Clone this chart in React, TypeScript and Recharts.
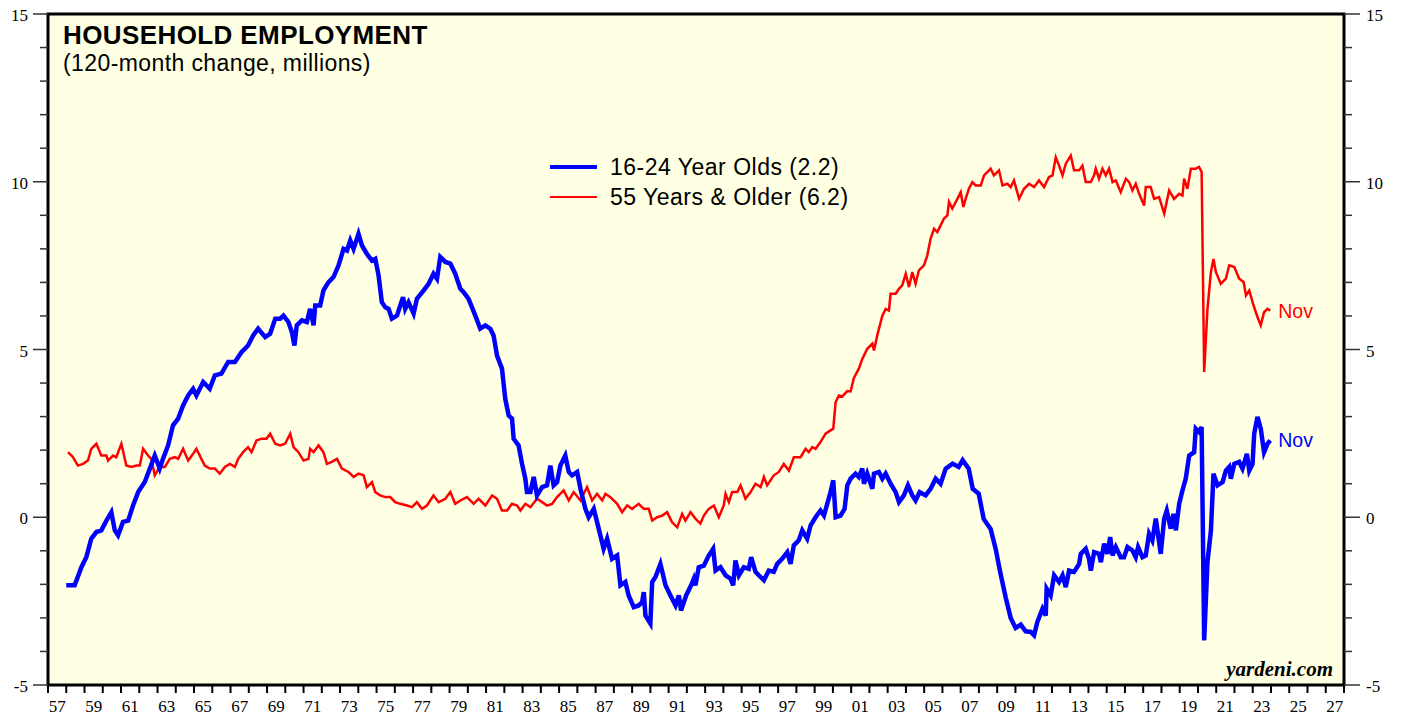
import { CartesianGrid, Legend, Line, LineChart, ReferenceArea, ReferenceDot, XAxis, YAxis } from "recharts";

// 120-month change in household employment, millions: [year, value]
const youth: Array<[number, number]> = [
  [1958.0, -2.03], [1958.46, -2.03], [1958.83, -1.49], [1959.1, -1.19], [1959.37, -0.64], [1959.65, -0.44],
  [1959.92, -0.39], [1960.2, -0.1], [1960.47, 0.15], [1960.66, -0.39], [1960.84, -0.54], [1961.11, -0.14],
  [1961.39, -0.1], [1961.66, 0.35], [1961.94, 0.75], [1962.3, 1.05], [1962.58, 1.45], [1962.85, 1.84],
  [1963.12, 1.45], [1963.3, 1.74], [1963.58, 2.14], [1963.85, 2.74], [1964.13, 2.94], [1964.4, 3.33],
  [1964.68, 3.63], [1964.95, 3.83], [1965.13, 3.63], [1965.5, 4.03], [1965.86, 3.83], [1966.14, 4.23],
  [1966.5, 4.28], [1966.87, 4.63], [1967.24, 4.63], [1967.6, 4.92], [1967.96, 5.12], [1968.24, 5.42],
  [1968.51, 5.62], [1968.9, 5.37], [1969.17, 5.47], [1969.45, 5.92], [1969.72, 5.92], [1969.9, 6.01],
  [1970.17, 5.82], [1970.36, 5.52], [1970.5, 5.12], [1970.63, 5.72], [1970.91, 5.87], [1971.18, 5.82],
  [1971.36, 6.21], [1971.55, 5.72], [1971.64, 6.31], [1971.91, 6.31], [1972.09, 6.76], [1972.37, 7.01],
  [1972.64, 7.16], [1972.92, 7.51], [1973.19, 8.0], [1973.38, 7.95], [1973.56, 8.25], [1973.74, 8.0],
  [1974.01, 8.45], [1974.2, 8.1], [1974.47, 7.85], [1974.75, 7.65], [1974.93, 7.7], [1975.11, 7.21],
  [1975.29, 6.41], [1975.48, 6.26], [1975.66, 6.21], [1975.84, 5.92], [1976.12, 6.01], [1976.3, 6.31],
  [1976.45, 6.56], [1976.57, 6.21], [1976.75, 6.41], [1977.03, 6.07], [1977.21, 6.51], [1977.58, 6.76],
  [1977.85, 6.96], [1978.12, 7.26], [1978.31, 7.11], [1978.49, 7.76], [1978.77, 7.61], [1979.04, 7.56],
  [1979.31, 7.26], [1979.59, 6.81], [1979.77, 6.71], [1980.04, 6.51], [1980.41, 6.01], [1980.68, 5.62],
  [1980.96, 5.72], [1981.23, 5.62], [1981.41, 5.42], [1981.6, 4.82], [1981.87, 4.43], [1982.05, 3.53],
  [1982.24, 3.03], [1982.42, 2.94], [1982.51, 2.34], [1982.78, 2.14], [1982.97, 1.59], [1983.15, 1.15],
  [1983.24, 0.75], [1983.43, 0.75], [1983.61, 1.2], [1983.79, 0.65], [1984.07, 0.9], [1984.34, 0.95],
  [1984.52, 1.54], [1984.7, 0.95], [1984.89, 1.05], [1985.07, 1.54], [1985.34, 1.84], [1985.53, 1.35],
  [1985.71, 1.25], [1985.99, 1.35], [1986.17, 0.85], [1986.44, 0.25], [1986.62, 0.0], [1986.9, 0.25],
  [1987.17, -0.34], [1987.44, -0.94], [1987.63, -0.64], [1987.9, -1.24], [1988.18, -1.14], [1988.36, -2.03],
  [1988.63, -1.93], [1988.81, -2.33], [1989.09, -2.68], [1989.36, -2.63], [1989.55, -2.53], [1989.64, -2.23],
  [1989.73, -2.93], [1990.0, -3.17], [1990.1, -1.93], [1990.28, -1.78], [1990.55, -1.39], [1990.83, -2.03],
  [1991.1, -2.33], [1991.38, -2.63], [1991.56, -2.33], [1991.68, -2.78], [1991.96, -2.33], [1992.23, -2.03],
  [1992.38, -1.83], [1992.47, -2.03], [1992.65, -1.49], [1992.93, -1.44], [1993.2, -1.14], [1993.44, -0.94],
  [1993.57, -1.59], [1993.84, -1.49], [1994.12, -1.73], [1994.39, -1.83], [1994.54, -2.03], [1994.66, -1.29],
  [1994.85, -1.73], [1995.12, -1.49], [1995.39, -1.54], [1995.52, -1.19], [1995.76, -1.63], [1995.94, -1.73],
  [1996.22, -1.88], [1996.49, -1.59], [1996.76, -1.63], [1996.95, -1.39], [1997.22, -1.24], [1997.5, -1.04],
  [1997.68, -1.39], [1997.86, -0.84], [1998.13, -0.69], [1998.32, -0.39], [1998.59, -0.64], [1998.78, -0.24],
  [1999.05, 0.0], [1999.32, 0.2], [1999.51, 0.05], [1999.69, 0.4], [1999.87, 0.75], [2000.02, 1.1],
  [2000.15, 0.0], [2000.42, 0.05], [2000.64, 0.25], [2000.79, 0.95], [2000.97, 1.15], [2001.24, 1.3],
  [2001.42, 1.2], [2001.61, 1.45], [2001.7, 1.0], [2001.88, 1.3], [2002.16, 0.85], [2002.25, 1.3],
  [2002.52, 1.35], [2002.71, 1.15], [2002.89, 1.3], [2003.16, 1.0], [2003.44, 0.75], [2003.62, 0.45],
  [2003.89, 0.65], [2004.11, 0.95], [2004.35, 0.65], [2004.53, 0.5], [2004.75, 0.75], [2005.08, 0.65],
  [2005.35, 0.85], [2005.63, 1.15], [2005.9, 1.0], [2006.18, 1.45], [2006.56, 1.6], [2006.89, 1.5],
  [2007.11, 1.7], [2007.44, 1.45], [2007.66, 0.85], [2007.99, 0.7], [2008.26, -0.05], [2008.64, -0.35],
  [2008.92, -0.95], [2009.19, -1.7], [2009.47, -2.4], [2009.74, -3.0], [2010.01, -3.3], [2010.29, -3.2],
  [2010.56, -3.4], [2010.84, -3.42], [2011.02, -3.52], [2011.2, -3.12], [2011.48, -2.73], [2011.66, -2.93],
  [2011.71, -2.13], [2011.93, -2.33], [2012.12, -1.73], [2012.39, -1.93], [2012.58, -1.73], [2012.76, -2.08],
  [2012.94, -1.59], [2013.21, -1.63], [2013.49, -1.39], [2013.58, -1.09], [2013.85, -0.94], [2014.03, -1.24],
  [2014.13, -1.59], [2014.31, -1.04], [2014.58, -1.09], [2014.68, -1.34], [2014.86, -0.79], [2015.04, -1.09],
  [2015.19, -0.59], [2015.32, -1.14], [2015.5, -0.89], [2015.77, -1.19], [2015.95, -1.19], [2016.14, -0.89],
  [2016.41, -0.99], [2016.59, -1.19], [2016.72, -0.89], [2016.96, -1.19], [2017.14, -1.14], [2017.32, -0.49],
  [2017.5, -0.69], [2017.69, -0.04], [2017.96, -1.09], [2018.15, -0.04], [2018.29, 0.2], [2018.51, -0.34],
  [2018.66, 0.1], [2018.79, -0.39], [2018.97, 0.4], [2019.15, 0.8], [2019.33, 1.15], [2019.52, 1.84],
  [2019.79, 1.94], [2019.88, 2.64], [2020.06, 2.54], [2020.2, 2.69], [2020.34, -3.67], [2020.52, -1.34],
  [2020.71, -0.39], [2020.85, 1.3], [2021.07, 0.95], [2021.35, 1.05], [2021.53, 1.39], [2021.71, 1.5],
  [2021.8, 1.15], [2021.99, 1.59], [2022.26, 1.65], [2022.44, 1.45], [2022.68, 1.89], [2022.81, 1.39],
  [2022.99, 1.59], [2023.08, 2.49], [2023.26, 2.99], [2023.44, 2.64], [2023.62, 1.94], [2023.81, 2.19],
  [2023.96, 2.29],
];

const older: Array<[number, number]> = [
  [1958.1, 1.94], [1958.37, 1.79], [1958.64, 1.54], [1958.92, 1.59], [1959.19, 1.69], [1959.37, 2.04],
  [1959.65, 2.19], [1959.92, 1.84], [1960.2, 1.84], [1960.29, 1.69], [1960.56, 1.84], [1960.74, 1.79],
  [1961.02, 2.19], [1961.29, 1.54], [1961.57, 1.5], [1961.84, 1.54], [1962.03, 1.54], [1962.21, 2.04],
  [1962.48, 1.84], [1962.66, 1.74], [1962.85, 1.25], [1963.12, 1.5], [1963.4, 1.5], [1963.67, 1.74],
  [1963.95, 1.79], [1964.13, 1.74], [1964.4, 2.04], [1964.68, 1.69], [1964.95, 1.89], [1965.13, 2.04],
  [1965.4, 1.74], [1965.59, 1.54], [1965.86, 1.45], [1966.14, 1.45], [1966.41, 1.3], [1966.69, 1.5],
  [1966.96, 1.59], [1967.24, 1.5], [1967.42, 1.74], [1967.69, 1.94], [1967.96, 2.09], [1968.15, 1.94],
  [1968.42, 2.29], [1968.69, 2.34], [1968.97, 2.34], [1969.17, 2.49], [1969.45, 2.19], [1969.72, 2.14],
  [1969.99, 2.19], [1970.27, 2.49], [1970.45, 2.09], [1970.72, 1.94], [1971.0, 1.69], [1971.27, 1.74],
  [1971.36, 2.04], [1971.55, 1.94], [1971.82, 2.14], [1972.09, 1.94], [1972.28, 1.59], [1972.55, 1.65],
  [1972.83, 1.74], [1973.1, 1.45], [1973.46, 1.35], [1973.74, 1.2], [1974.01, 1.3], [1974.29, 1.25],
  [1974.47, 0.9], [1974.75, 1.05], [1974.93, 0.75], [1975.2, 0.65], [1975.48, 0.6], [1975.75, 0.6],
  [1976.02, 0.45], [1976.3, 0.4], [1976.67, 0.35], [1976.94, 0.3], [1977.21, 0.45], [1977.49, 0.25],
  [1977.76, 0.35], [1978.12, 0.65], [1978.4, 0.45], [1978.77, 0.55], [1979.04, 0.75], [1979.31, 0.4],
  [1979.59, 0.5], [1979.95, 0.6], [1980.32, 0.4], [1980.59, 0.55], [1980.96, 0.35], [1981.33, 0.65],
  [1981.6, 0.55], [1981.87, 0.2], [1982.15, 0.2], [1982.42, 0.4], [1982.7, 0.35], [1982.88, 0.2],
  [1983.15, 0.4], [1983.43, 0.3], [1983.79, 0.55], [1984.07, 0.45], [1984.34, 0.35], [1984.62, 0.4],
  [1984.89, 0.6], [1985.25, 0.8], [1985.53, 0.5], [1985.8, 0.75], [1986.17, 0.5], [1986.53, 0.9],
  [1986.81, 0.5], [1987.08, 0.7], [1987.36, 0.5], [1987.54, 0.7], [1987.81, 0.6], [1988.18, 0.4],
  [1988.45, 0.15], [1988.73, 0.35], [1989.0, 0.25], [1989.36, 0.4], [1989.64, 0.25], [1989.91, 0.25],
  [1990.1, -0.1], [1990.37, 0.0], [1990.65, 0.05], [1990.92, 0.15], [1991.19, -0.15], [1991.47, -0.3],
  [1991.74, 0.1], [1991.92, -0.1], [1992.2, 0.15], [1992.47, -0.04], [1992.74, -0.19], [1992.93, 0.05],
  [1993.2, 0.25], [1993.48, 0.35], [1993.75, 0.0], [1994.02, 0.35], [1994.12, 0.7], [1994.3, 0.45],
  [1994.48, 0.75], [1994.76, 0.75], [1994.94, 0.95], [1995.21, 0.55], [1995.49, 0.75], [1995.76, 1.0],
  [1996.04, 0.9], [1996.22, 1.2], [1996.4, 0.95], [1996.76, 1.25], [1997.04, 1.35], [1997.31, 1.59],
  [1997.59, 1.39], [1997.86, 1.79], [1998.23, 1.79], [1998.5, 2.04], [1998.68, 1.94], [1998.87, 2.09],
  [1999.05, 2.04], [1999.32, 2.24], [1999.6, 2.49], [1999.87, 2.59], [2000.02, 2.64], [2000.15, 3.43],
  [2000.33, 3.63], [2000.51, 3.6], [2000.79, 3.76], [2000.97, 3.75], [2001.15, 4.15], [2001.42, 4.43],
  [2001.61, 4.72], [2001.88, 5.02], [2002.16, 5.17], [2002.25, 4.97], [2002.43, 5.42], [2002.71, 6.01],
  [2002.89, 6.21], [2003.07, 6.16], [2003.16, 6.66], [2003.44, 6.66], [2003.62, 6.81], [2003.8, 6.91],
  [2003.99, 7.26], [2004.17, 6.86], [2004.35, 7.31], [2004.53, 6.96], [2004.71, 7.36], [2004.99, 7.51],
  [2005.17, 7.8], [2005.35, 8.3], [2005.54, 8.6], [2005.72, 8.5], [2005.9, 8.7], [2006.08, 8.9],
  [2006.27, 9.0], [2006.36, 9.4], [2006.54, 9.2], [2006.82, 9.49], [2007.0, 9.69], [2007.15, 9.25],
  [2007.27, 9.49], [2007.45, 9.79], [2007.64, 9.99], [2007.82, 9.89], [2008.1, 9.89], [2008.28, 10.19],
  [2008.46, 10.29], [2008.64, 10.39], [2008.82, 10.19], [2009.1, 10.34], [2009.29, 9.89], [2009.56, 9.94],
  [2009.74, 9.84], [2009.92, 10.04], [2010.2, 9.49], [2010.47, 9.79], [2010.75, 9.94], [2011.02, 9.84],
  [2011.29, 10.04], [2011.57, 9.84], [2011.84, 10.14], [2012.03, 10.19], [2012.21, 10.73], [2012.39, 10.48],
  [2012.58, 10.19], [2012.76, 10.54], [2013.03, 10.78], [2013.21, 10.34], [2013.49, 10.34], [2013.67, 10.48],
  [2013.85, 9.99], [2014.13, 9.99], [2014.31, 10.19], [2014.4, 10.39], [2014.58, 10.09], [2014.77, 10.39],
  [2014.95, 10.19], [2015.13, 10.39], [2015.32, 9.99], [2015.5, 10.04], [2015.77, 9.69], [2016.05, 10.09],
  [2016.23, 9.99], [2016.41, 9.74], [2016.59, 9.94], [2016.78, 9.64], [2017.05, 9.29], [2017.14, 9.84],
  [2017.41, 9.84], [2017.6, 9.49], [2017.87, 9.54], [2018.15, 9.05], [2018.42, 9.74], [2018.69, 9.49],
  [2018.97, 9.64], [2019.15, 9.59], [2019.24, 10.09], [2019.42, 9.79], [2019.61, 10.39], [2019.88, 10.39],
  [2020.06, 10.44], [2020.2, 10.29], [2020.34, 4.33], [2020.52, 6.21], [2020.71, 7.31], [2020.85, 7.7],
  [2020.98, 7.31], [2021.25, 6.96], [2021.53, 7.11], [2021.71, 7.51], [2021.99, 7.46], [2022.26, 7.11],
  [2022.5, 7.01], [2022.63, 6.61], [2022.81, 6.76], [2022.99, 6.41], [2023.17, 6.11], [2023.26, 5.97],
  [2023.44, 5.72], [2023.62, 6.11], [2023.81, 6.21], [2023.96, 6.16],
];

const yearTicks = [
  1957, 1958, 1959, 1960, 1961, 1962, 1963, 1964, 1965, 1966, 1967, 1968, 1969, 1970, 1971, 1972, 1973, 1974,
  1975, 1976, 1977, 1978, 1979, 1980, 1981, 1982, 1983, 1984, 1985, 1986, 1987, 1988, 1989, 1990, 1991, 1992,
  1993, 1994, 1995, 1996, 1997, 1998, 1999, 2000, 2001, 2002, 2003, 2004, 2005, 2006, 2007, 2008, 2009, 2010,
  2011, 2012, 2013, 2014, 2015, 2016, 2017, 2018, 2019, 2020, 2021, 2022, 2023, 2024, 2025, 2026, 2027, 2028,
];
const labeledYears = [
  1957, 1959, 1961, 1963, 1965, 1967, 1969, 1971, 1973, 1975, 1977, 1979, 1981, 1983, 1985, 1987, 1989, 1991,
  1993, 1995, 1997, 1999, 2001, 2003, 2005, 2007, 2009, 2011, 2013, 2015, 2017, 2019, 2021, 2023, 2025, 2027,
];
const valueTicks = [-5, -4, -3, -2, -1, 0, 1, 2, 3, 4, 5, 6, 7, 8, 9, 10, 11, 12, 13, 14, 15];
const majorValues = [-5, 0, 5, 10, 15];

const youthName = "16-24 Year Olds (2.2)";
const olderName = "55 Years & Older (6.2)";
const latestLabel = "Nov";

const youthData = youth.map(([year, value]) => ({ year, value }));
const olderData = older.map(([year, value]) => ({ year, value }));
const youthLast = youthData[youthData.length - 1];
const olderLast = olderData[olderData.length - 1];

const WIDTH = 1403;
const HEIGHT = 717;
const PLOT_LEFT = 48;
const PLOT_RIGHT = 1344;
const BLUE = "#0000FF";
const RED = "#FF0000";
const SANS = "'Liberation Sans', Arial, sans-serif";
const SERIF = "'Liberation Serif', 'Times New Roman', serif";
const HALF_YEAR = (PLOT_RIGHT - PLOT_LEFT) / (yearTicks[yearTicks.length - 1] - yearTicks[0]) / 2;

function YearTick({ x, y, payload }: any) {
  const year = payload.value as number;
  return (
    <g>
      <line x1={x} x2={x} y1={y} y2={y + 8} stroke="#000" strokeWidth={2} />
      {labeledYears.includes(year) && (
        <text x={x + HALF_YEAR} y={y + 27} textAnchor="middle" fontFamily={SERIF} fontSize={17} fill="#000">
          {String(year % 100).padStart(2, "0")}
        </text>
      )}
    </g>
  );
}

function LeftTick({ x, y, payload }: any) {
  const major = majorValues.includes(payload.value);
  return (
    <g>
      <line x1={x - (major ? 15 : 8)} x2={x} y1={y} y2={y} stroke="#333" strokeWidth={1.5} />
      {major && (
        <text x={x - 20} y={y + 7} textAnchor="end" fontFamily={SERIF} fontSize={17} fill="#000">
          {payload.value}
        </text>
      )}
    </g>
  );
}

function RightTick({ x, y, payload }: any) {
  const major = majorValues.includes(payload.value);
  return (
    <g>
      <line x1={x} x2={x + (major ? 16 : 8)} y1={y} y2={y} stroke="#333" strokeWidth={1.5} />
      {major && (
        <text x={x + 22} y={y + 7} textAnchor="start" fontFamily={SERIF} fontSize={17} fill="#000">
          {payload.value}
        </text>
      )}
    </g>
  );
}

function SeriesLegend() {
  const row = { display: "flex", alignItems: "center", height: 30, whiteSpace: "nowrap" as const };
  return (
    <div style={{ fontFamily: SANS, fontSize: 23, letterSpacing: 0.5, color: "#000" }}>
      <div style={row}>
        <span style={{ display: "inline-block", width: 47, height: 4, background: BLUE, marginRight: 13 }} />
        {youthName}
      </div>
      <div style={row}>
        <span style={{ display: "inline-block", width: 47, height: 2, background: RED, marginRight: 13 }} />
        {olderName}
      </div>
    </div>
  );
}

export default function App() {
  return (
    <div style={{ position: "absolute", left: 0, top: 0, width: WIDTH, height: HEIGHT, background: "#fff" }}>
      <LineChart width={WIDTH} height={HEIGHT} margin={{ top: 14, right: 9, bottom: 2, left: 8 }}>
        <CartesianGrid fill="#FFFFE3" horizontal={false} vertical={false} yAxisId="left" />
        <XAxis
          dataKey="year"
          type="number"
          domain={[1957, 2028]}
          ticks={yearTicks}
          interval={0}
          allowDataOverflow
          axisLine={false}
          tickLine={false}
          tickSize={0}
          tickMargin={0}
          height={30}
          tick={<YearTick />}
        />
        <YAxis
          yAxisId="left"
          domain={[-5, 15]}
          ticks={valueTicks}
          interval={0}
          allowDataOverflow
          axisLine={false}
          tickLine={false}
          tickSize={0}
          tickMargin={0}
          width={40}
          tick={<LeftTick />}
        />
        <YAxis
          yAxisId="right"
          orientation="right"
          domain={[-5, 15]}
          ticks={valueTicks}
          interval={0}
          allowDataOverflow
          axisLine={false}
          tickLine={false}
          tickSize={0}
          tickMargin={0}
          width={50}
          tick={<RightTick />}
        />
        <Legend
          layout="vertical"
          align="center"
          verticalAlign="middle"
          content={<SeriesLegend />}
          wrapperStyle={{ left: 550, top: 152, width: 330 }}
        />
        <Line
          yAxisId="left"
          data={olderData}
          dataKey="value"
          name={olderName}
          stroke={RED}
          strokeWidth={2.5}
          dot={false}
          type="linear"
          isAnimationActive={false}
        />
        <Line
          yAxisId="left"
          data={youthData}
          dataKey="value"
          name={youthName}
          stroke={BLUE}
          strokeWidth={4.5}
          dot={false}
          type="linear"
          isAnimationActive={false}
        />
        <ReferenceDot
          yAxisId="left"
          x={olderLast.year}
          y={olderLast.value}
          r={1}
          fill="none"
          stroke="none"
          label={{ value: latestLabel, position: "right", offset: 7, fill: RED, fontSize: 19.5, fontFamily: SANS }}
        />
        <ReferenceDot
          yAxisId="left"
          x={youthLast.year}
          y={youthLast.value}
          r={1}
          fill="none"
          stroke="none"
          label={{ value: latestLabel, position: "right", offset: 7, fill: BLUE, fontSize: 19.5, fontFamily: SANS }}
        />
        <ReferenceArea
          yAxisId="left"
          x1={1957}
          x2={2028}
          y1={-5}
          y2={15}
          fill="none"
          stroke="#000"
          strokeWidth={3}
        />
      </LineChart>
      <div style={{ position: "absolute", left: 63, top: 22, fontFamily: SANS, fontWeight: 700, fontSize: 26, letterSpacing: 0.4, lineHeight: 1, whiteSpace: "nowrap" }}>
        HOUSEHOLD EMPLOYMENT
      </div>
      <div style={{ position: "absolute", left: 63, top: 52, fontFamily: SANS, fontSize: 23, letterSpacing: 0.4, lineHeight: 1, whiteSpace: "nowrap" }}>
        (120-month change, millions)
      </div>
      <div style={{ position: "absolute", right: WIDTH - 1333, top: 659, fontFamily: SERIF, fontWeight: 700, fontStyle: "italic", fontSize: 21, lineHeight: 1, whiteSpace: "nowrap" }}>
        yardeni.com
      </div>
    </div>
  );
}
